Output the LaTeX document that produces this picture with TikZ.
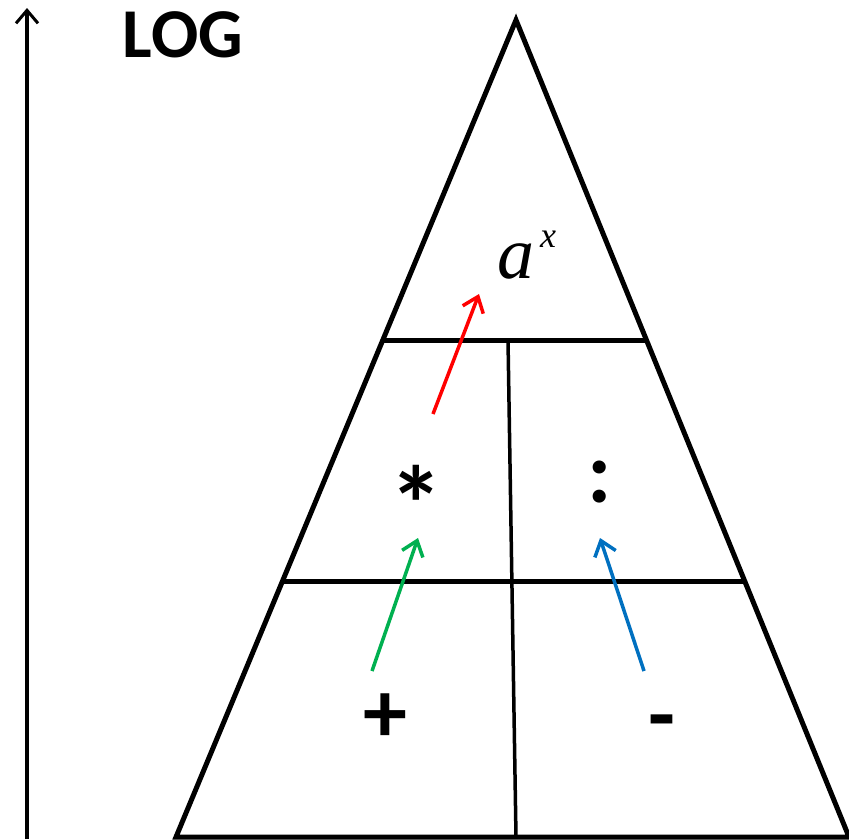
\documentclass[tikz,border=0pt]{standalone}
\usepackage{fontspec}
\setmainfont{Carlito}
\newfontfamily\powfont{Liberation Serif}
\usetikzlibrary{arrows.meta,calc}

\tikzset{
  sign/.style={font=\fontsize{88}{88}\selectfont\bfseries,inner sep=0pt},
  hint/.style={line width=3.5pt,-{Straight Barb[length=14pt,width=22pt,line width=3.5pt]}}
}

\begin{document}
\begin{tikzpicture}[x=1pt,y=-1pt]
  \useasboundingbox (0,0) rectangle (849,839);
  % axis
  \coordinate (ax0) at (27,839);
  \coordinate (ax1) at (27,8);
  \draw[line width=3.5pt,-{Straight Barb[length=13pt,width=22pt,line width=3pt]}] (ax0)--(ax1);
  \node[font=\fontsize{70}{70}\selectfont\bfseries,inner sep=0pt] (log) at (183,35) {LOG};
  % pyramid
  \coordinate (apex) at (516,20);
  \coordinate (bl) at (176,837);
  \coordinate (br) at (849,837);
  \draw[line width=5pt,line join=miter] (apex)--(bl)--(br)--cycle;
  \draw[line width=5pt] ($(apex)!0.3917!(bl)$)--($(apex)!0.3917!(br)$);
  \draw[line width=5pt] ($(apex)!0.6867!(bl)$)--($(apex)!0.6867!(br)$);
  \draw[line width=3.5pt] (508,340)--(516,837);
  % labels
  \node[inner sep=0pt,anchor=base west,font=\powfont\itshape\fontsize{74}{74}\selectfont] (pow) at (497,278)
    {a\raisebox{31pt}{\fontsize{36}{36}\selectfont\,x}};
  \node[sign,font=\fontsize{108}{108}\selectfont\bfseries] (mul) at (416,504) {*};
  \node[sign] (div) at (600,482) {:};
  \node[sign] (add) at (385,718) {+};
  \node[sign] (sub) at (662,730) {-};
  % arrows
  \coordinate (r0) at (433,414);
  \coordinate (r1) at (479,294);
  \coordinate (g0) at (372,671);
  \coordinate (g1) at (418,538);
  \coordinate (b0) at (644,671);
  \coordinate (b1) at (600,538);
  \draw[hint,red] (r0)--(r1);
  \draw[hint,color={rgb,255:red,0;green,176;blue,80}] (g0)--(g1);
  \draw[hint,color={rgb,255:red,0;green,112;blue,192}] (b0)--(b1);
\end{tikzpicture}
\end{document}
